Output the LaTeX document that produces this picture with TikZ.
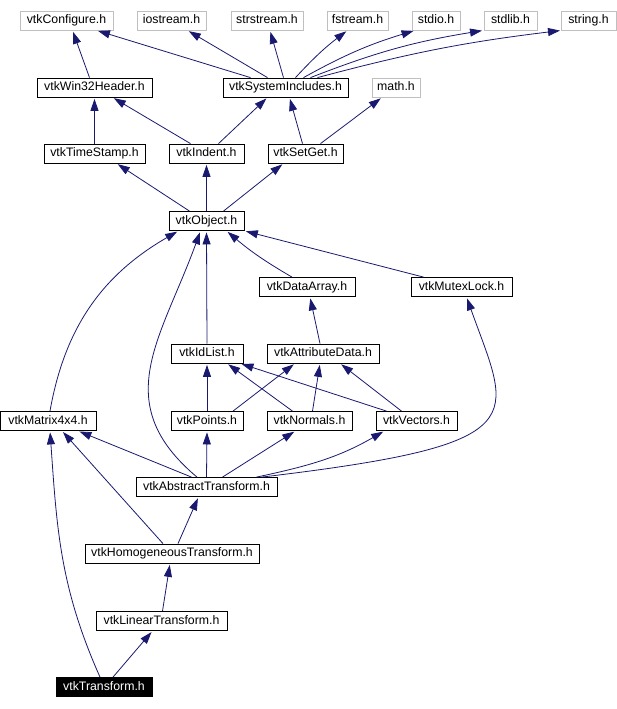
\documentclass[tikz,border=0pt]{standalone}
\usepackage{fontspec}
\setmainfont{Liberation Sans}
\usepackage{tikz}
\usetikzlibrary{arrows.meta}

\definecolor{edgeblue}{RGB}{25,25,112}
\definecolor{extgray}{RGB}{191,191,191}

\begin{document}
\begin{tikzpicture}[x=1pt,y=1pt]

\tikzset{hdr/.style = {draw=black, line width=.8pt, minimum height=19pt, inner sep=0pt,
  text height=9pt, text depth=2.5pt, font=\fontsize{12.3}{14}\selectfont}}
\tikzset{exthdr/.style = {hdr, draw=extgray}}
\tikzset{selfhdr/.style = {hdr, fill=black, text=white}}
\tikzset{every edge/.style = {draw=edgeblue, line width=.8pt, shorten >=1.5pt,
  -{Triangle[length=12pt,width=8pt]}}}

\useasboundingbox (0,0) rectangle (617,-709);

% system headers
\node[exthdr, minimum width=93pt] (conf) at (66.5,-20.5) {vtkConfigure.h};
\node[exthdr, minimum width=69pt] (ios) at (171.5,-20.5) {iostream.h};
\node[exthdr, minimum width=72pt] (strs) at (267,-20.5) {strstream.h};
\node[exthdr, minimum width=61pt] (fstr) at (357.5,-20.5) {fstream.h};
\node[exthdr, minimum width=48pt] (stdio) at (436,-20.5) {stdio.h};
\node[exthdr, minimum width=53pt] (stdlib) at (510.5,-20.5) {stdlib.h};
\node[exthdr, minimum width=55pt] (string) at (588.5,-20.5) {string.h};
\node[exthdr, minimum width=48pt] (math) at (396,-87.5) {math.h};
% vtk headers
\node[hdr, minimum width=115pt] (w32) at (94.5,-87.5) {vtkWin32Header.h};
\node[hdr, minimum width=125pt] (sysinc) at (285.5,-87.5) {vtkSystemIncludes.h};
\node[hdr, minimum width=101pt] (tstamp) at (94.5,-153.5) {vtkTimeStamp.h};
\node[hdr, minimum width=75pt] (indent) at (206.5,-153.5) {vtkIndent.h};
\node[hdr, minimum width=75pt] (setget) at (305.5,-153.5) {vtkSetGet.h};
\node[hdr, minimum width=75pt] (obj) at (206.5,-221) {vtkObject.h};
\node[hdr, minimum width=96pt] (darray) at (307,-287) {vtkDataArray.h};
\node[hdr, minimum width=101pt] (mutex) at (461.5,-287) {vtkMutexLock.h};
\node[hdr, minimum width=72pt] (idlist) at (207,-353.5) {vtkIdList.h};
\node[hdr, minimum width=112pt] (attr) at (323,-353.5) {vtkAttributeData.h};
\node[hdr, minimum width=96pt] (mat) at (48,-421) {vtkMatrix4x4.h};
\node[hdr, minimum width=72pt] (points) at (207,-421) {vtkPoints.h};
\node[hdr, minimum width=85pt] (normals) at (309.5,-421) {vtkNormals.h};
\node[hdr, minimum width=81pt] (vectors) at (416.5,-421) {vtkVectors.h};
\node[hdr, minimum width=141pt] (abstr) at (206.5,-487) {vtkAbstractTransform.h};
\node[hdr, minimum width=174pt] (homog) at (172,-553.5) {vtkHomogeneousTransform.h};
\node[hdr, minimum width=131pt] (linear) at (161.5,-621) {vtkLinearTransform.h};
\node[selfhdr, minimum width=96pt] (transf) at (104,-687) {vtkTransform.h};

% edges
\path ([xshift=-5pt]w32.north) edge ([xshift=6pt]conf.south);
\path ([xshift=-35pt]sysinc.north) edge ([xshift=30pt]conf.south);
\path ([xshift=-18pt]sysinc.north) edge ([xshift=16pt]ios.south);
\path ([xshift=-2pt]sysinc.north) edge ([xshift=3pt]strs.south);
\path ([xshift=10pt]sysinc.north) edge[bend left=5] ([xshift=-10pt]fstr.south);
\path ([xshift=18pt]sysinc.north) edge[bend left=6] ([xshift=-21pt]stdio.south);
\path ([xshift=25pt]sysinc.north) edge[bend left=6] ([xshift=-27pt]stdlib.south);
\path ([xshift=32pt]sysinc.north) edge[bend left=4] ([xshift=-27pt]string.south);
\path (tstamp.north) edge (w32.south);
\path ([xshift=-16pt]indent.north) edge ([xshift=18pt]w32.south);
\path ([xshift=12pt]indent.north) edge ([xshift=-18pt]sysinc.south);
\path ([xshift=-3pt]setget.north) edge ([xshift=4pt]sysinc.south);
\path ([xshift=15pt]setget.north) edge ([xshift=-14pt]math.south);
\path ([xshift=-17pt]obj.north) edge ([xshift=22pt]tstamp.south);
\path (obj.north) edge (indent.south);
\path ([xshift=17pt]obj.north) edge ([xshift=-22pt]setget.south);
\path ([xshift=-15pt]darray.north) edge[bend left=5] ([xshift=20pt]obj.south);
\path ([xshift=-38pt]mutex.north) edge (obj.south east);
\path (idlist.north) edge (obj.south);
\path ([xshift=-3pt]attr.north) edge ([xshift=3pt]darray.south);
\path ([xshift=2pt]mat.north) edge[out=80, in=-150] ([xshift=-28pt]obj.south);
\path ([xshift=26pt]points.north) edge ([xshift=-28pt]attr.south);
\path (points.north) edge (idlist.south);
\path ([xshift=-17pt]normals.north) edge ([xshift=20pt]idlist.south);
\path ([xshift=3pt]normals.north) edge ([xshift=-3pt]attr.south);
\path ([xshift=-30pt]vectors.north) edge ([xshift=33pt]idlist.south);
\path ([xshift=-15pt]vectors.north) edge ([xshift=17pt]attr.south);
\path ([xshift=-9.5pt]abstr.north) edge[out=140, in=-110, looseness=1.2] ([xshift=-6pt]obj.south);
\path ([xshift=55pt]abstr.north) edge[to path={.. controls +(278,33) and +(44,-123) .. (\tikztotarget)}] ([xshift=5pt]mutex.south);
\path ([xshift=50pt]abstr.north) edge[out=12, in=-150] ([xshift=-32pt]vectors.south);
\path ([xshift=16pt]abstr.north) edge ([xshift=-14pt]normals.south);
\path (abstr.north) edge (points.south);
\path ([xshift=-15pt]abstr.north) edge ([xshift=30pt]mat.south);
\path ([xshift=6pt]homog.north) edge ([xshift=-8pt]abstr.south);
\path ([xshift=-9pt]homog.north) edge ([xshift=14pt]mat.south);
\path ([xshift=1pt]linear.north) edge ([xshift=-2pt]homog.south);
\path ([xshift=9pt]transf.north) edge ([xshift=-9pt]linear.south);
\path ([xshift=-4pt]transf.north) edge[out=114, in=-86] ([xshift=2pt]mat.south);
\end{tikzpicture}
\end{document}
